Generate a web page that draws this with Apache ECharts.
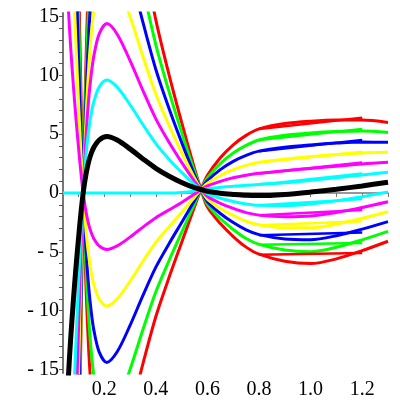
<!DOCTYPE html>
<html>
<head>
<meta charset="utf-8">
<script src="https://cdn.jsdelivr.net/npm/echarts@6/dist/echarts.min.js"></script>
<style>html,body{margin:0;padding:0;background:#fff}#c{width:400px;height:400px}</style>
</head>
<body>
<div id="c"></div>
<script>
// x sample points
var xs = [0.04,0.05,0.06,0.07,0.08,0.09,0.10,0.11,0.12,0.13,0.14,0.15,0.16,0.18,0.21,0.25,0.30,0.35,0.40,0.45,0.50,0.55,0.575,0.6,0.65,0.7,0.75,0.8,0.9,1.0,1.1,1.2,1.3];

// solution curves
var blackCurve = [-27,-21,-16,-12.3,-9.2,-6.4,-3.9,-1.6,0.3,1.7,2.7,3.4,3.9,4.5,4.8,4.5,3.75,2.9,2.1,1.45,0.9,0.45,0.3,0.15,-0.02,-0.12,-0.2,-0.22,-0.12,0.08,0.32,0.6,0.92];
var cyanA    = [0,0,0,0,0,0,0,0,0,0,0,0,0,0,0,0,0,0,0,0,0.05,0.18,0.3,0.375,0.48,0.58,0.65,0.73,0.88,1.08,1.3,1.53,1.77];
var magentaA = [27,21,16,12.3,9.2,6.4,3.9,1.6,-0.3,-1.7,-2.7,-3.4,-3.9,-4.5,-4.8,-4.5,-3.75,-2.9,-2.1,-1.45,-0.8,-0.09,0.3,0.6,0.99,1.29,1.5,1.67,1.89,2.09,2.28,2.47,2.61];
var yellowA  = [54,42,32,24.6,18.4,12.8,7.8,3.2,-0.6,-3.4,-5.4,-6.8,-7.8,-9,-9.6,-9,-7.5,-5.8,-4.2,-2.9,-1.65,-0.36,0.3,0.825,1.49,1.99,2.35,2.62,2.89,3.09,3.26,3.4,3.46];
var blueA    = [81,63,48,36.9,27.6,19.2,11.7,4.8,-0.9,-5.1,-8.1,-10.2,-11.7,-13.5,-14.4,-13.5,-11.25,-8.7,-6.3,-4.35,-2.5,-0.63,0.3,1.05,1.99,2.69,3.2,3.56,3.89,4.09,4.24,4.33,4.31];
var greenA   = [108,84,64,49.2,36.8,25.6,15.6,6.4,-1.2,-6.8,-10.8,-13.6,-15.6,-18,-19.2,-18,-15,-11.6,-8.4,-5.8,-3.35,-0.9,0.3,1.275,2.5,3.4,4.05,4.51,4.9,5.1,5.22,5.27,5.15];
var redA     = [135,105,80,61.5,46,32,19.5,8,-1.5,-8.5,-13.5,-17,-19.5,-22.5,-24,-22.5,-18.75,-14.5,-10.5,-7.25,-4.2,-1.17,0.3,1.5,3.0,4.1,4.9,5.45,5.9,6.1,6.2,6.2,6.0];
var cyanB    = [-54,-42,-32,-24.6,-18.4,-12.8,-7.8,-3.2,0.6,3.4,5.4,6.8,7.8,9,9.6,9,7.5,5.8,4.2,2.9,1.75,0.72,0.3,-0.075,-0.45,-0.72,-0.93,-1.05,-1.07,-0.93,-0.67,-0.32,0.08];
var magentaB = [-81,-63,-48,-36.9,-27.6,-19.2,-11.7,-4.8,0.9,5.1,8.1,10.2,11.7,13.5,14.4,13.5,11.25,8.7,6.3,4.35,2.6,0.99,0.3,-0.3,-0.88,-1.31,-1.67,-1.88,-2.01,-1.95,-1.65,-1.23,-0.75];
var yellowB  = [-108,-84,-64,-49.2,-36.8,-25.6,-15.6,-6.4,1.2,6.8,10.8,13.6,15.6,18,19.2,18,15,11.6,8.4,5.8,3.45,1.26,0.3,-0.525,-1.31,-1.91,-2.4,-2.71,-2.96,-2.96,-2.64,-2.15,-1.59];
var blueB    = [-135,-105,-80,-61.5,-46,-32,-19.5,-8,1.5,8.5,13.5,17,19.5,22.5,24,22.5,18.75,14.5,10.5,7.25,4.3,1.53,0.3,-0.75,-1.74,-2.51,-3.13,-3.54,-3.91,-3.97,-3.63,-3.07,-2.43];
var greenB   = [-162,-126,-96,-73.8,-55.2,-38.4,-23.4,-9.6,1.8,10.2,16.2,20.4,23.4,27,28.8,27,22.5,17.4,12.6,8.7,5.15,1.8,0.3,-0.975,-2.17,-3.1,-3.87,-4.37,-4.85,-4.99,-4.61,-3.98,-3.26];
var redB     = [-189,-147,-112,-86.1,-64.4,-44.8,-27.3,-11.2,2.1,11.9,18.9,23.8,27.3,31.5,33.6,31.5,26.25,20.3,14.7,10.15,6.0,2.07,0.3,-1.2,-2.6,-3.7,-4.6,-5.2,-5.8,-6.0,-5.6,-4.9,-4.1];

// straight step segments on the right (x = 0.8 .. 1.2)
var segX = [0.8, 1.2];
var segRedA = [5.45, 6.4];
var segGreenA = [4.5, 5.45];
var segBlueA = [3.55, 4.5];
var segYellowA = [2.6, 3.5];
var segMagentaA = [1.65, 2.6];
var segCyanA = [0.7, 1.65];
var segCyanB = [-1.05, -0.5];
var segMagentaB = [-1.9, -1.45];
var segYellowB = [-2.75, -2.4];
var segBlueB = [-3.6, -3.35];
var segGreenB = [-4.4, -4.25];
var segRedB = [-5.25, -5.1];

// axis ticks and labels
var xTickValues = [0.1,0.2,0.3,0.4,0.5,0.6,0.7,0.8,0.9,1.0,1.1,1.2,1.3];
var xLabelValues = [0.2,0.4,0.6,0.8,1.0,1.2];
var xLabelTexts = ['0.2','0.4','0.6','0.8','1.0','1.2'];
var yTickValues = [-15,-14,-13,-12,-11,-10,-9,-8,-7,-6,-5,-4,-3,-2,-1,0,1,2,3,4,5,6,7,8,9,10,11,12,13,14,15];
var yLabelValues = [-15,-10,-5,0,5,10,15];
var yLabelTexts = ['- 15','- 10','- 5','0','5','10','15'];

var RED='#ff0000', GREEN='#00ff00', BLUE='#0000ff', YELLOW='#ffff00', MAGENTA='#ff00ff', CYAN='#00ffff';
var FONT = "Liberation Serif";

function pts(arr){ return xs.map(function(x,i){ return [x, arr[i]]; }); }
function seg(arr){ return segX.map(function(x,i){ return [x, arr[i]]; }); }
function curve(arr, color, w, z){
  return {type:'line', data:pts(arr), showSymbol:false, smooth:0.3, clip:true, silent:true,
          lineStyle:{color:color, width:w||3}, z:z||2};
}
function segment(arr, color){
  return {type:'line', data:seg(arr), showSymbol:false, clip:true, silent:true,
          lineStyle:{color:color, width:2.5}, z:2};
}

var chart = echarts.init(document.getElementById('c'), null, {renderer:'canvas'});
chart.setOption({
  animation:false,
  backgroundColor:'#fff',
  grid:{left:63, right:12, top:13, bottom:13, containLabel:false},
  xAxis:{type:'value', min:0.04, max:1.3,
    axisLine:{onZero:true, lineStyle:{color:'#777', width:1.5}},
    axisTick:{customValues:xTickValues, length:4, lineStyle:{color:'#777'}},
    axisLabel:{customValues:xLabelValues, margin:7, fontFamily:FONT, fontSize:20, color:'#000',
      formatter:function(v){ var i = xLabelValues.indexOf(v); return i>=0 ? xLabelTexts[i] : ''; }},
    splitLine:{show:false}},
  yAxis:{type:'value', min:-15.3, max:15.3,
    axisLine:{onZero:false, lineStyle:{color:'#777', width:2}},
    axisTick:{customValues:yTickValues, length:4, lineStyle:{color:'#555'}},
    axisLabel:{customValues:yLabelValues, margin:4, fontFamily:FONT, fontSize:20, color:'#000',
      formatter:function(v){ var i = yLabelValues.indexOf(v); return i>=0 ? yLabelTexts[i] : ''; }},
    splitLine:{show:false}},
  series:[
    curve(redA, RED), curve(redB, RED),
    curve(greenA, GREEN), curve(greenB, GREEN),
    curve(blueA, BLUE), curve(blueB, BLUE),
    curve(yellowA, YELLOW), curve(yellowB, YELLOW),
    curve(magentaA, MAGENTA), curve(magentaB, MAGENTA),
    curve(cyanA, CYAN), curve(cyanB, CYAN),
    segment(segRedA, RED), segment(segGreenA, GREEN), segment(segBlueA, BLUE),
    segment(segYellowA, YELLOW), segment(segMagentaA, MAGENTA), segment(segCyanA, CYAN),
    segment(segCyanB, CYAN), segment(segMagentaB, MAGENTA), segment(segYellowB, YELLOW),
    segment(segBlueB, BLUE), segment(segGreenB, GREEN), segment(segRedB, RED),
    curve(blackCurve, '#000', 5, 3)
  ]
});
</script>
</body>
</html>
